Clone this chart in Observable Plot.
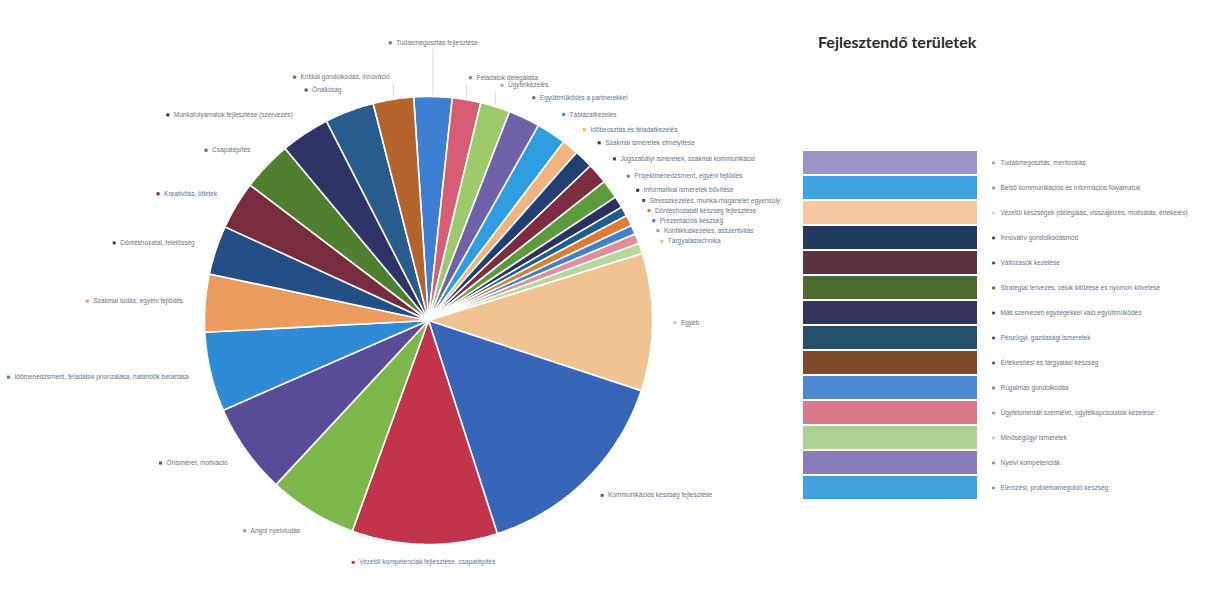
<!DOCTYPE html>
<html><head><meta charset="utf-8">
<script src="https://cdn.jsdelivr.net/npm/d3@7"></script>
<script src="https://cdn.jsdelivr.net/npm/@observablehq/plot@0.6"></script>
<style>
html,body{margin:0;padding:0;background:#fff;}
#wrap{position:relative;width:1215px;height:590px;overflow:hidden;background:#fff;}
#pie{position:absolute;left:0;top:0;}
#leg{position:absolute;left:780px;top:0;}
#title{position:absolute;left:818px;top:32px;font:700 16px Lato,"Open Sans",sans-serif;color:#2a2a2a;white-space:nowrap;}
</style></head><body>
<div id="wrap"><div id="pie"></div><div id="leg"></div><div id="title">Fejlesztendő területek</div></div>
<script>
// ---- pie data (clockwise from the top) ----
const pieLabels = [
  "Tudásmegosztás fejlesztése",
  "Feladatok delegálása",
  "Ügyfélkezelés",
  "Együttműködés a partnerekkel",
  "Táblázatkezelés",
  "Időbeosztás és feladatkezelés",
  "Szakmai ismeretek elmélyítése",
  "Jogszabályi ismeretek, szakmai kommunikáció",
  "Projektmenedzsment, egyéni fejlődés",
  "Informatikai ismeretek bővítése",
  "Stresszkezelés, munka-magánélet egyensúly",
  "Döntéshozatali készség fejlesztése",
  "Prezentációs készség",
  "Konfliktuskezelés, asszertivitás",
  "Tárgyalástechnika",
  "Egyéb",
  "Kommunikációs készség fejlesztése",
  "Vezetői kompetenciák fejlesztése, csapatépítés",
  "Angol nyelvtudás",
  "Önismeret, motiváció",
  "Időmenedzsment, feladatok priorizálása, határidők betartása",
  "Szakmai tudás, egyéni fejlődés",
  "Döntéshozatal, felelősség",
  "Kreativitás, ötletek",
  "Csapatépítés",
  "Munkafolyamatok fejlesztése (szervezés)",
  "Önállóság",
  "Kritikai gondolkodás, innováció"
];
const pieValues = [9.9, 7.4, 7.7, 8.2, 7.7, 4.3, 4.9, 5.4, 4.9, 3.0, 2.5, 2.8, 2.4, 2.6, 2.7,
                   35.7, 53.8, 37.8, 23.0, 23.5, 20.6, 15.0, 12.7, 12.5, 13.0, 12.7, 12.8, 10.5];
const pieColors = ["#3d7fd0","#d65d73","#9cca6b","#6f61aa","#2f9ee0","#f2b47e","#213f70","#7c2d40","#5c9b3c",
                   "#2c3062","#1f5f8e","#e07b36","#4282ca","#e28c9c","#b6d89c",
                   "#f1c391","#3766b8","#c1344b","#7cb84a","#594b98","#2e8bd6","#eb9b5e","#244f86",
                   "#7a2c3f","#50802f","#2f3467","#275c8c","#b5632d"];

// ---- right panel data ----
const legendLabels = [
  "Tudásmegosztás, mentorálás",
  "Belső kommunikációs és információs folyamatok",
  "Vezetői készségek (delegálás, visszajelzés, motiválás, értékelés)",
  "Innovatív gondolkodásmód",
  "Változások kezelése",
  "Stratégiai tervezés, célok kitűzése és nyomon követése",
  "Más szervezeti egységekkel való együttműködés",
  "Pénzügyi, gazdasági ismeretek",
  "Értékesítési és tárgyalási készség",
  "Rugalmas gondolkodás",
  "Ügyfélorientált szemlélet, ügyfélkapcsolatok kezelése",
  "Minőségügyi ismeretek",
  "Nyelvi kompetenciák",
  "Elemzési, problémamegoldó készség"
];
const legendColors = ["#9d94c8","#3ea3e0","#f6c7a1","#213b5e","#5d3341","#4d6a33","#35355f",
                      "#24506c","#7d4b2b","#4c87cf","#d97886","#acd193","#8a7bbb","#42a0dd"];

// ---- geometry ----
const W = 780, H = 590, CX = 428, CY = 320, R = 224;
const u = 1 / R;               // one pixel in data units
const startDeg = -3.8;
const FS = 6.5;
const rad = d => d * Math.PI / 180;
const total = d3.sum(pieValues);
let acc = 0;
const slices = pieValues.map((v, i) => {
  const a0 = startDeg + acc / total * 360; acc += v;
  const a1 = startDeg + acc / total * 360;
  return {i, label: pieLabels[i], color: pieColors[i], a0, a1, mid: (a0 + a1) / 2};
});
const polyPts = [];
for (const s of slices) {
  polyPts.push({id: s.i, x: 0, y: 0, color: s.color});
  const n = Math.max(2, Math.ceil((s.a1 - s.a0) / 0.5));
  for (let k = 0; k <= n; k++) {
    const a = rad(s.a0 + (s.a1 - s.a0) * k / n);
    polyPts.push({id: s.i, x: Math.sin(a), y: Math.cos(a), color: s.color});
  }
  polyPts.push({id: s.i, x: 0, y: 0, color: s.color});
}

const ctx = document.createElement("canvas").getContext("2d");
ctx.font = `${FS}px "Liberation Sans", Arial, sans-serif`;
const labs = [], leaders = [];
for (const s of slices) {
  const sn = Math.sin(rad(s.mid)), cs = Math.cos(rad(s.mid));
  const centered = Math.abs(sn) <= 0.1;
  const rL = centered ? (cs > 0 ? 1.24 : 1.08) : 1.1;
  const ax = rL * sn, ay = rL * cs;
  const w = ctx.measureText(s.label).width;
  let dotX, textX, anchor;
  if (centered) { dotX = ax - (w + 6) / 2 * u; textX = dotX + 6 * u; anchor = "start"; }
  else if (sn > 0) { dotX = ax; textX = ax + 6 * u; anchor = "start"; }
  else { textX = ax; dotX = ax - (w + 6) * u; anchor = "end"; }
  labs.push({label: s.label, color: s.color, dotX, textX, ay, anchor});
  if (cs > 0.95) leaders.push({x: sn, y1: cs + 2 * u, y2: ay - 6 * u});
}

const pie = Plot.plot({
  width: W, height: H, margin: 0,
  x: {domain: [-CX / R, (W - CX) / R], axis: null},
  y: {domain: [-(H - CY) / R, CY / R], axis: null},
  color: {type: "identity"},
  style: {background: "transparent"},
  marks: [
    Plot.line(polyPts, {x: "x", y: "y", z: "id", fill: "color", stroke: "white", strokeWidth: 1.6, strokeLinejoin: "round"}),
    Plot.link(leaders, {x1: "x", x2: "x", y1: "y1", y2: "y2", stroke: "#cfcfcf", strokeWidth: 0.8}),
    Plot.dot(labs, {x: "dotX", y: "ay", symbol: "square", r: 1.7, fill: "color"}),
    Plot.text(labs.filter(d => d.anchor === "start"), {x: "textX", y: "ay", text: "label", textAnchor: "start", fontSize: FS, fill: "#66748c", fontFamily: "Liberation Sans, Arial, sans-serif"}),
    Plot.text(labs.filter(d => d.anchor === "end"), {x: "textX", y: "ay", text: "label", textAnchor: "end", fontSize: FS, fill: "#66748c", fontFamily: "Liberation Sans, Arial, sans-serif"})
  ]
});
document.getElementById("pie").appendChild(pie);

const legendRows = legendLabels.map((label, i) => ({label, color: legendColors[i]}));
const leg = Plot.plot({
  width: 435, height: H, marginTop: 143, marginBottom: 84, marginLeft: 23, marginRight: 238,
  x: {domain: [0, 1], axis: null},
  y: {domain: legendLabels, axis: null, padding: 0.08},
  color: {type: "identity"},
  marks: [
    Plot.barX(legendRows, {x1: 0, x2: 1, y: "label", fill: "color"}),
    Plot.dot(legendRows, {x: 1, y: "label", dx: 16, symbol: "square", r: 1.5, fill: "color"}),
    Plot.text(legendRows, {x: 1, y: "label", dx: 23, text: "label", textAnchor: "start", fontSize: FS, fill: "#66748c", fontFamily: "Liberation Sans, Arial, sans-serif"})
  ]
});
document.getElementById("leg").appendChild(leg);
</script>
</body></html>
